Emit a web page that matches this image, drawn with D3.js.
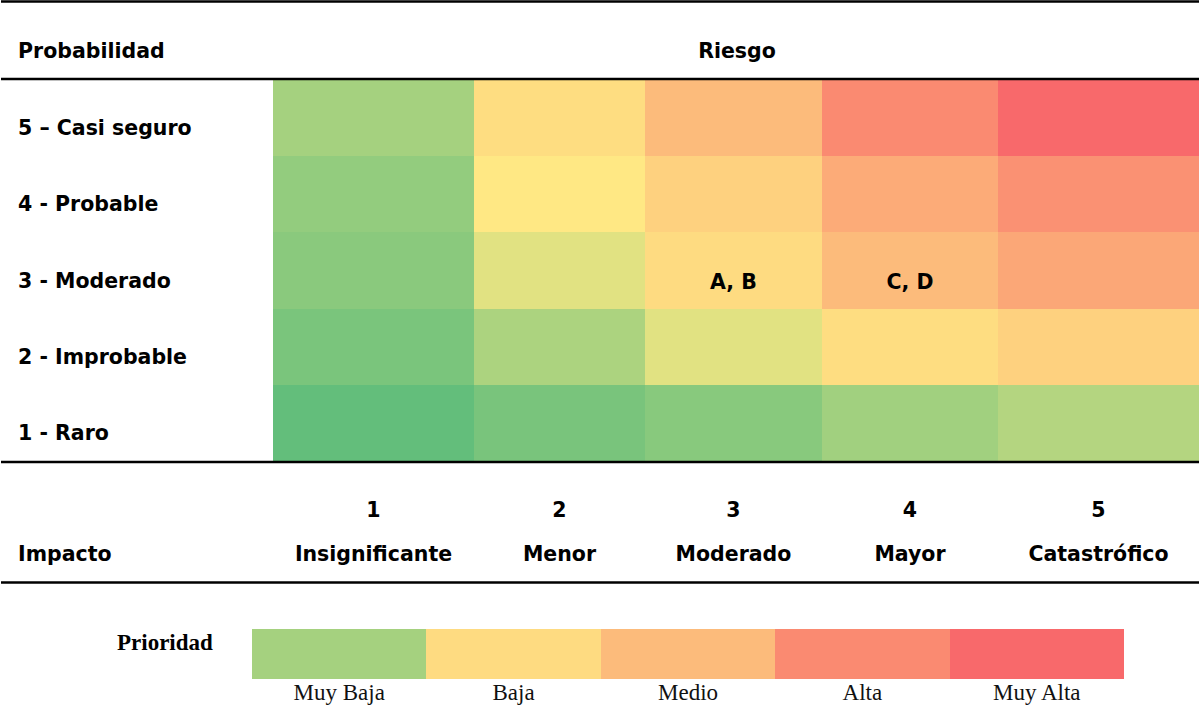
<!DOCTYPE html>
<html>
<head>
<meta charset="utf-8">
<script src="https://cdn.jsdelivr.net/npm/d3@7"></script>
<style>
  body { margin: 0; background: #fff; }
  svg { display: block; }
</style>
</head>
<body>
<div id="chart"></div>
<script>
// probability rows, top to bottom
const probLabels = ['5 – Casi seguro', '4 - Probable', '3 - Moderado', '2 - Improbable', '1 - Raro'];
const probLevels = [5, 4, 3, 2, 1];

// impact columns
const impactLevels = [1, 2, 3, 4, 5];
const impactNames = ['Insignificante', 'Menor', 'Moderado', 'Mayor', 'Catastrófico'];

// risk score per cell (0 = green, 1 = yellow, 2 = red), one array per probability row
const scoreP5 = [0.42, 1.11, 1.37, 1.75, 2.00];
const scoreP4 = [0.31, 1.02, 1.20, 1.49, 1.69];
const scoreP3 = [0.25, 0.81, 1.12, 1.37, 1.52];
const scoreP2 = [0.15, 0.47, 0.81, 1.11, 1.20];
const scoreP1 = [0.00, 0.14, 0.24, 0.40, 0.52];

// items placed on the matrix
const itemLabels = ['A, B', 'C, D'];
const itemProb = [3, 3];
const itemImpact = [3, 4];

// priority legend
const priorityLabels = ['Muy Baja', 'Baja', 'Medio', 'Alta', 'Muy Alta'];
const priorityScores = [0.42, 1.12, 1.37, 1.75, 2.00];

const scores = [scoreP5, scoreP4, scoreP3, scoreP2, scoreP1];

const width = 1199, height = 709;
const sans = '"DejaVu Sans", Lato, sans-serif';
const serif = '"Liberation Serif", "Times New Roman", serif';

const svg = d3.select('#chart').append('svg')
  .attr('width', width)
  .attr('height', height);

const color = d3.scaleLinear()
  .domain([0, 1, 2])
  .range(['#63BE7B', '#FFEB84', '#F8696B'])
  .interpolate(d3.interpolateRgb);

// table columns are a bit wider at both ends
const colWeights = [201, 171, 177, 176, 201];
const colEdges = d3.cumsum([0, ...colWeights]);
const xw = d3.scaleLinear().domain([0, d3.sum(colWeights)]).range([273, 1199]);
const colX0 = (i) => xw(colEdges[i]);
const colX1 = (i) => xw(colEdges[i + 1]);
const colMid = (i) => (colX0(i) + colX1(i)) / 2;

const y = d3.scaleBand()
  .domain(probLevels)
  .range([80, 461]);

// cells
const cells = [];
probLevels.forEach((p, r) => {
  impactLevels.forEach((imp, c) => {
    cells.push({ p, c, v: scores[r][c] });
  });
});

svg.append('g').selectAll('rect')
  .data(cells)
  .enter().append('rect')
    .attr('x', (d) => colX0(d.c))
    .attr('y', (d) => y(d.p))
    .attr('width', (d) => colX1(d.c) - colX0(d.c))
    .attr('height', y.bandwidth())
    .attr('fill', (d) => color(d.v))
    .attr('shape-rendering', 'crispEdges');

// rules
const rules = [1.5, 79, 462, 582.5];
svg.append('g').selectAll('line')
  .data(rules)
  .enter().append('line')
    .attr('x1', 1)
    .attr('x2', width)
    .attr('y1', (d) => d)
    .attr('y2', (d) => d)
    .attr('stroke', '#000')
    .attr('stroke-width', 2.5);

const txt = svg.append('g')
  .attr('font-family', sans)
  .attr('font-weight', 700)
  .attr('font-size', 20.5)
  .attr('fill', '#000');

txt.append('text').attr('x', 18).attr('y', 58).text('Probabilidad');
txt.append('text').attr('x', 737).attr('y', 58).attr('text-anchor', 'middle').text('Riesgo');
txt.append('text').attr('x', 18).attr('y', 561).text('Impacto');

txt.selectAll('.prob')
  .data(probLevels)
  .enter().append('text')
    .attr('class', 'prob')
    .attr('x', 18)
    .attr('y', (d) => y(d) + y.bandwidth() / 2 + 17)
    .text((d, i) => probLabels[i]);

txt.selectAll('.impnum')
  .data(impactLevels)
  .enter().append('text')
    .attr('class', 'impnum')
    .attr('x', (d, i) => colMid(i))
    .attr('y', 517)
    .attr('text-anchor', 'middle')
    .text((d) => d);

txt.selectAll('.impname')
  .data(impactNames)
  .enter().append('text')
    .attr('class', 'impname')
    .attr('x', (d, i) => colMid(i))
    .attr('y', 561)
    .attr('text-anchor', 'middle')
    .text((d) => d);

txt.selectAll('.item')
  .data(itemLabels)
  .enter().append('text')
    .attr('class', 'item')
    .attr('x', (d, i) => colMid(impactLevels.indexOf(itemImpact[i])))
    .attr('y', (d, i) => y(itemProb[i]) + y.bandwidth() / 2 + 18)
    .attr('text-anchor', 'middle')
    .text((d) => d);

// legend
const lx = d3.scaleBand()
  .domain(priorityLabels)
  .range([252, 1124]);

const legend = svg.append('g');

legend.append('text')
  .attr('x', 117)
  .attr('y', 650)
  .attr('font-family', serif)
  .attr('font-weight', 700)
  .attr('font-size', 23)
  .text('Prioridad');

legend.selectAll('rect')
  .data(priorityLabels)
  .enter().append('rect')
    .attr('x', (d) => lx(d))
    .attr('y', 629)
    .attr('width', lx.bandwidth())
    .attr('height', 50)
    .attr('fill', (d, i) => color(priorityScores[i]))
    .attr('shape-rendering', 'crispEdges');

legend.selectAll('.plab')
  .data(priorityLabels)
  .enter().append('text')
    .attr('class', 'plab')
    .attr('x', (d) => lx(d) + lx.bandwidth() / 2)
    .attr('y', 700)
    .attr('text-anchor', 'middle')
    .attr('font-family', serif)
    .attr('font-size', 23)
    .attr('fill', '#111')
    .text((d) => d);
</script>
</body>
</html>
